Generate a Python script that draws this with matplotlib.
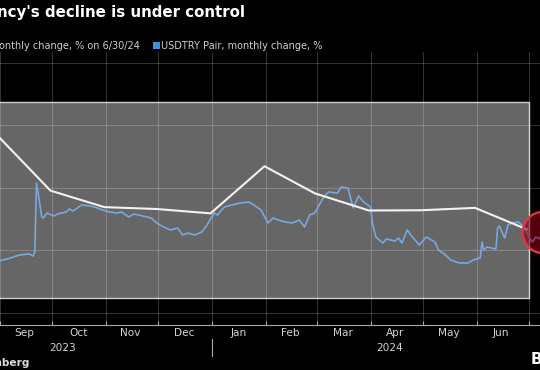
import matplotlib
matplotlib.use('Agg')
import matplotlib.pyplot as plt
import matplotlib.dates as mdates
import matplotlib.transforms as mtransforms
from matplotlib.patches import Rectangle
from matplotlib.ticker import FixedLocator, FixedFormatter, NullFormatter
import pandas as pd

plt.rcParams['font.family'] = ['DejaVu Sans']

# ---------------- data ----------------
title = "ncy's decline is under control"
legend_white = "onthly change, % on 6/30/24"
legend_blue = "USDTRY Pair, monthly change, %"
source = "Bloomberg"

months = ['Sep', 'Oct', 'Nov', 'Dec', 'Jan', 'Feb', 'Mar', 'Apr', 'May', 'Jun']
month_label_dates = ['2023-09-15', '2023-10-16', '2023-11-15', '2023-12-16', '2024-01-16',
                     '2024-02-15', '2024-03-16', '2024-04-15', '2024-05-16', '2024-06-15']
years = ['2023', '2024']
year_label_dates = ['2023-10-07', '2024-04-12']

cpi_dates = ['2023-08-31', '2023-09-30', '2023-10-31', '2023-11-30', '2023-12-31',
             '2024-01-31', '2024-02-29', '2024-03-31', '2024-04-30', '2024-05-31', '2024-06-30']
cpi_vals = [9.09, 4.75, 3.43, 3.28, 2.93, 6.70, 4.53, 3.16, 3.18, 3.37, 1.64]

fx_dates = ['2023-09-01', '2023-09-07', '2023-09-12', '2023-09-18', '2023-09-20', '2023-09-21',
            '2023-09-22', '2023-09-25', '2023-09-26', '2023-09-28', '2023-10-02', '2023-10-04',
            '2023-10-09', '2023-10-11', '2023-10-13', '2023-10-18', '2023-10-23', '2023-10-27',
            '2023-10-30', '2023-11-03', '2023-11-07', '2023-11-10', '2023-11-14', '2023-11-17',
            '2023-11-22', '2023-11-27', '2023-11-30', '2023-12-04', '2023-12-08', '2023-12-12',
            '2023-12-15', '2023-12-18', '2023-12-22', '2023-12-26', '2023-12-29', '2024-01-02',
            '2024-01-04', '2024-01-08', '2024-01-12', '2024-01-17', '2024-01-22', '2024-01-25',
            '2024-01-29', '2024-02-02', '2024-02-05', '2024-02-08', '2024-02-12', '2024-02-16',
            '2024-02-20', '2024-02-23', '2024-02-26', '2024-02-29', '2024-03-04', '2024-03-06',
            '2024-03-08', '2024-03-13', '2024-03-15', '2024-03-19', '2024-03-22', '2024-03-25',
            '2024-03-28', '2024-04-01', '2024-04-02', '2024-04-04', '2024-04-08', '2024-04-10',
            '2024-04-15', '2024-04-17', '2024-04-19', '2024-04-22', '2024-04-25', '2024-04-29',
            '2024-05-03', '2024-05-08', '2024-05-10', '2024-05-14', '2024-05-17', '2024-05-22',
            '2024-05-27', '2024-05-30', '2024-06-03', '2024-06-04', '2024-06-05', '2024-06-07',
            '2024-06-12', '2024-06-13', '2024-06-14', '2024-06-17', '2024-06-19', '2024-06-21',
            '2024-06-25', '2024-06-28', '2024-07-01', '2024-07-03', '2024-07-05', '2024-07-07',
            '2024-07-09']
fx_vals = [-0.86, -0.64, -0.40, -0.32, -0.48, -0.16,
           5.36, 2.64, 2.56, 2.96, 2.72, 2.88,
           3.04, 3.28, 3.12, 3.60, 3.52, 3.36,
           3.20, 3.04, 2.96, 3.04, 2.64, 2.88,
           2.72, 2.56, 2.16, 1.84, 1.60, 1.76,
           1.20, 1.36, 1.20, 1.44, 2.00, 2.96,
           2.80, 3.44, 3.60, 3.76, 3.84, 3.60,
           3.20, 2.16, 2.56, 2.40, 2.24, 2.16,
           2.40, 1.84, 2.80, 2.96, 4.00, 4.40,
           4.64, 4.56, 5.04, 4.96, 3.36, 4.32,
           3.84, 3.44, 2.16, 1.04, 0.56, 0.88,
           0.72, 0.96, 0.56, 1.60, 1.04, 0.40,
           1.04, 0.64, 0.00, -0.40, -0.80, -1.04,
           -1.04, -0.80, -0.64, 0.64, 0.00, 0.24,
           0.08, 1.76, 1.92, 0.96, 2.00, 2.16,
           2.24, 1.84, 1.04, 0.64, 1.04, 0.90,
           1.44]

shade_start, shade_end = '2023-08-01', '2024-07-01'
shade_low, shade_high = -3.85, 11.85
y_grid = [-5, 0, 5, 10, 15]

# ---------------- figure ----------------
W, H = 540, 370
fig = plt.figure(figsize=(W / 100, H / 100), dpi=100, facecolor='black')
ax_bottom_px, ax_top_px = 325, 52
ax = fig.add_axes([0, (H - ax_bottom_px) / H, 1, (ax_bottom_px - ax_top_px) / H])
ax.set_facecolor('black')

d0 = pd.Timestamp('2023-09-01')
ax.set_xlim(d0, d0 + pd.Timedelta(days=540 / 1.74))
ax.set_ylim(-6.0, 15.84)

# shaded panel
xs0 = mdates.date2num(pd.Timestamp(shade_start))
xs1 = mdates.date2num(pd.Timestamp(shade_end))
ax.add_patch(Rectangle((xs0, shade_low), xs1 - xs0, shade_high - shade_low,
                       facecolor='#666666', edgecolor='#cfcfcf', linewidth=1.0, zorder=1))

# grid
ax.set_yticks(y_grid)
ax.yaxis.set_major_formatter(NullFormatter())
ax.tick_params(axis='y', length=0)
ax.xaxis.set_major_locator(mdates.MonthLocator())
ax.xaxis.set_major_formatter(NullFormatter())
ax.grid(True, color='white', alpha=0.2, linewidth=0.8, zorder=1.5)
ax.set_axisbelow(False)
for gl in ax.get_xgridlines() + ax.get_ygridlines():
    gl.set_zorder(1.5)

ax.xaxis.set_minor_locator(FixedLocator(mdates.date2num(pd.to_datetime(month_label_dates))))
ax.xaxis.set_minor_formatter(FixedFormatter(months))
ax.tick_params(axis='x', which='major', direction='in', length=3, color='#aaaaaa', width=0.8)
ax.tick_params(axis='x', which='minor', length=0, pad=2.5, labelsize=7.6, labelcolor='#d2d2d2')

for s in ['top', 'left', 'right']:
    ax.spines[s].set_visible(False)
ax.spines['bottom'].set_color('#aaaaaa')
ax.spines['bottom'].set_linewidth(0.8)

# series
fx_d = pd.to_datetime(fx_dates)
ax.plot(fx_d, fx_vals, color='#7aa8dc', linewidth=1.2, zorder=3)
ax.plot(pd.to_datetime(cpi_dates), cpi_vals, color='#f2f2f2', linewidth=1.5, zorder=4)

# highlight circle on latest value
ax.scatter([fx_d[-1]], [fx_vals[-1]], s=900, facecolor=(0.55, 0.0, 0.08, 0.6),
           edgecolor='#e8324a', linewidth=1.6, zorder=5, clip_on=False)

# year labels + separator
trans = mtransforms.blended_transform_factory(ax.transData, ax.transAxes)
ah = ax_bottom_px - ax_top_px
for yl, yd in zip(years, year_label_dates):
    ax.text(pd.Timestamp(yd), -(348 - ax_bottom_px) / ah, yl, transform=trans,
            ha='center', va='center', fontsize=7.6, color='#d2d2d2')
ax.plot([pd.Timestamp('2024-01-01')] * 2, [-(339 - ax_bottom_px) / ah, -(356 - ax_bottom_px) / ah],
        transform=trans, color='#aaaaaa', linewidth=0.8, clip_on=False)

# title / legend / source
fig.text(-3 / W, 1 - 12 / H, title, ha='left', va='center', fontsize=10.8,
         fontweight='bold', color='white')
fig.text(-1 / W, 1 - 46 / H, legend_white, ha='left', va='center', fontsize=7.0, color='#d0d0d0')
fig.patches.append(Rectangle((153 / W, 1 - 49 / H), 6.5 / W, 7 / H, transform=fig.transFigure,
                             facecolor='#3d8fe8', edgecolor='none'))
fig.text(161 / W, 1 - 46 / H, legend_blue, ha='left', va='center', fontsize=7.0, color='#d0d0d0')
fig.text(29 / W, 1 - 363 / H, source, ha='right', va='center', fontsize=7.6,
         fontweight='bold', color='#dddddd')
fig.text(531 / W, 1 - 360 / H, 'B', ha='left', va='center', fontsize=11,
         fontweight='bold', color='white')

fig.savefig('out.png', dpi=100, facecolor='black')
